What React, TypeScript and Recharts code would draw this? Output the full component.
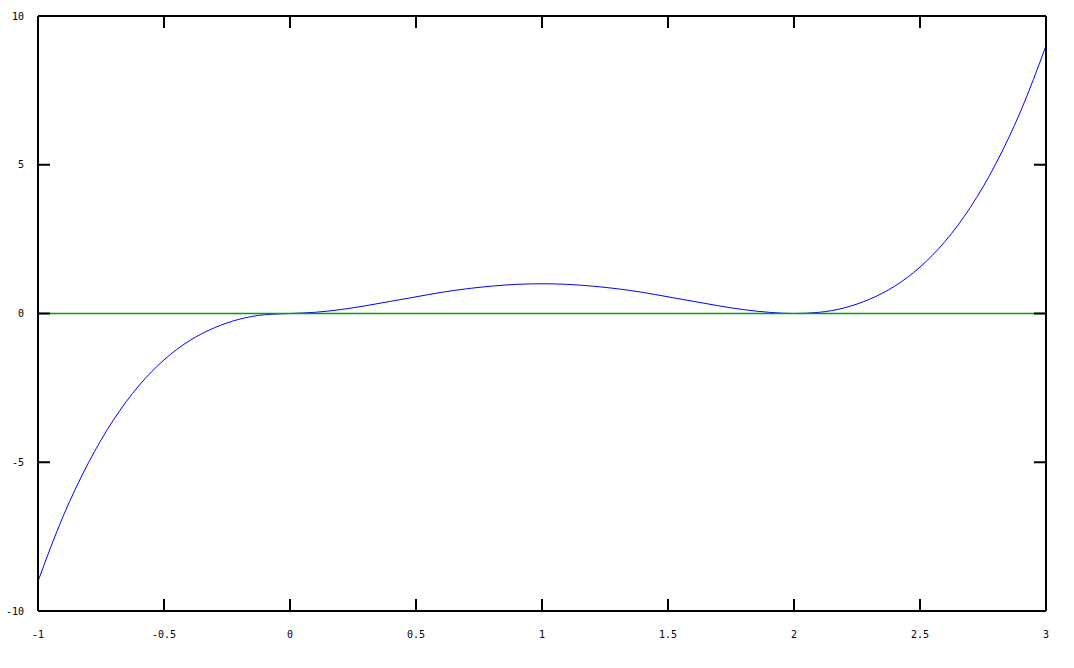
import { LineChart, Line, XAxis, YAxis } from 'recharts'

const xs = [
  -1, -0.9, -0.8, -0.7, -0.6, -0.5, -0.4, -0.3, -0.2, -0.1,
  0, 0.1, 0.2, 0.3, 0.4, 0.5, 0.6, 0.7, 0.8, 0.9,
  1, 1.1, 1.2, 1.3, 1.4, 1.5, 1.6, 1.7, 1.8, 1.9,
  2, 2.1, 2.2, 2.3, 2.4, 2.5, 2.6, 2.7, 2.8, 2.9, 3,
]

const ys = [
  -9, -6.81, -5.02, -3.57, -2.43, -1.56, -0.92, -0.48, -0.19, -0.04,
  0, 0.04, 0.13, 0.26, 0.41, 0.56, 0.71, 0.83, 0.92, 0.98,
  1, 0.98, 0.92, 0.83, 0.71, 0.56, 0.41, 0.26, 0.13, 0.04,
  0, 0.04, 0.19, 0.48, 0.92, 1.56, 2.43, 3.57, 5.02, 6.81, 9,
]

// second curve: flat zero line
const zeroXs = [-1, 3]
const zeroYs = [0, 0]

const xTicks = [-1, -0.5, 0, 0.5, 1, 1.5, 2, 2.5, 3]
const yTicks = [-10, -5, 0, 5, 10]

const data = xs.map((x, i) => ({ x, y: ys[i] }))
const zeroData = zeroXs.map((x, i) => ({ x, z: zeroYs[i] }))

const font = { fontFamily: '"DejaVu Sans Mono", monospace', fontSize: 10 }
const TICK = 12

// bottom axis: label + inward tick
const BottomTick = (p: any) => (
  <g>
    <line x1={p.x} x2={p.x} y1={p.y - 20} y2={p.y - 20 - TICK} stroke="#000" strokeWidth={2} />
    <text x={p.x} y={p.y} dy="0.71em" textAnchor="middle" fill="#000" style={font}>
      {String(p.payload.value)}
    </text>
  </g>
)

const TopTick = (p: any) => (
  <line x1={p.x} x2={p.x} y1={p.y} y2={p.y + TICK} stroke="#000" strokeWidth={2} />
)

const LeftTick = (p: any) => (
  <g>
    <line x1={p.x + 14} x2={p.x + 14 + TICK} y1={p.y} y2={p.y} stroke="#000" strokeWidth={2} />
    <text x={p.x} y={p.y} dy="0.35em" textAnchor="end" fill="#000" style={font}>
      {String(p.payload.value)}
    </text>
  </g>
)

const RightTick = (p: any) => (
  <line x1={p.x} x2={p.x - TICK} y1={p.y} y2={p.y} stroke="#000" strokeWidth={2} />
)

export default function App() {
  const axisLine = { stroke: '#000', strokeWidth: 2 }
  return (
    <div style={{ position: 'absolute', left: 0, top: 0, width: 1074, height: 668, background: '#fff' }}>
      <LineChart width={1074} height={668} data={data} margin={{ top: 0, right: 0, left: 0, bottom: 0 }}>
        <XAxis
          xAxisId="b"
          type="number"
          dataKey="x"
          domain={[-1, 3]}
          ticks={xTicks}
          height={57}
          tickSize={0}
          tickMargin={20}
          tickLine={false}
          axisLine={axisLine}
          tick={<BottomTick />}
          interval={0}
          allowDataOverflow
        />
        <XAxis
          xAxisId="t"
          orientation="top"
          type="number"
          dataKey="x"
          domain={[-1, 3]}
          ticks={xTicks}
          height={16}
          tickSize={0}
          tickMargin={0}
          tickLine={false}
          axisLine={axisLine}
          tick={<TopTick />}
          interval={0}
          allowDataOverflow
        />
        <YAxis
          yAxisId="l"
          type="number"
          domain={[-10, 10]}
          ticks={yTicks}
          width={38}
          tickSize={0}
          tickMargin={14}
          tickLine={false}
          axisLine={axisLine}
          tick={<LeftTick />}
          interval={0}
          allowDataOverflow
        />
        <YAxis
          yAxisId="r"
          orientation="right"
          type="number"
          domain={[-10, 10]}
          ticks={yTicks}
          width={28}
          tickSize={0}
          tickMargin={0}
          tickLine={false}
          axisLine={axisLine}
          tick={<RightTick />}
          interval={0}
          allowDataOverflow
        />
        <Line
          xAxisId="b"
          yAxisId="l"
          type="monotone"
          dataKey="y"
          stroke="#0000ff"
          strokeWidth={1}
          dot={false}
          isAnimationActive={false}
        />
        <Line
          xAxisId="b"
          yAxisId="l"
          data={zeroData}
          type="linear"
          dataKey="z"
          stroke="#00a000"
          strokeWidth={1.5}
          dot={false}
          isAnimationActive={false}
        />
      </LineChart>
    </div>
  )
}
